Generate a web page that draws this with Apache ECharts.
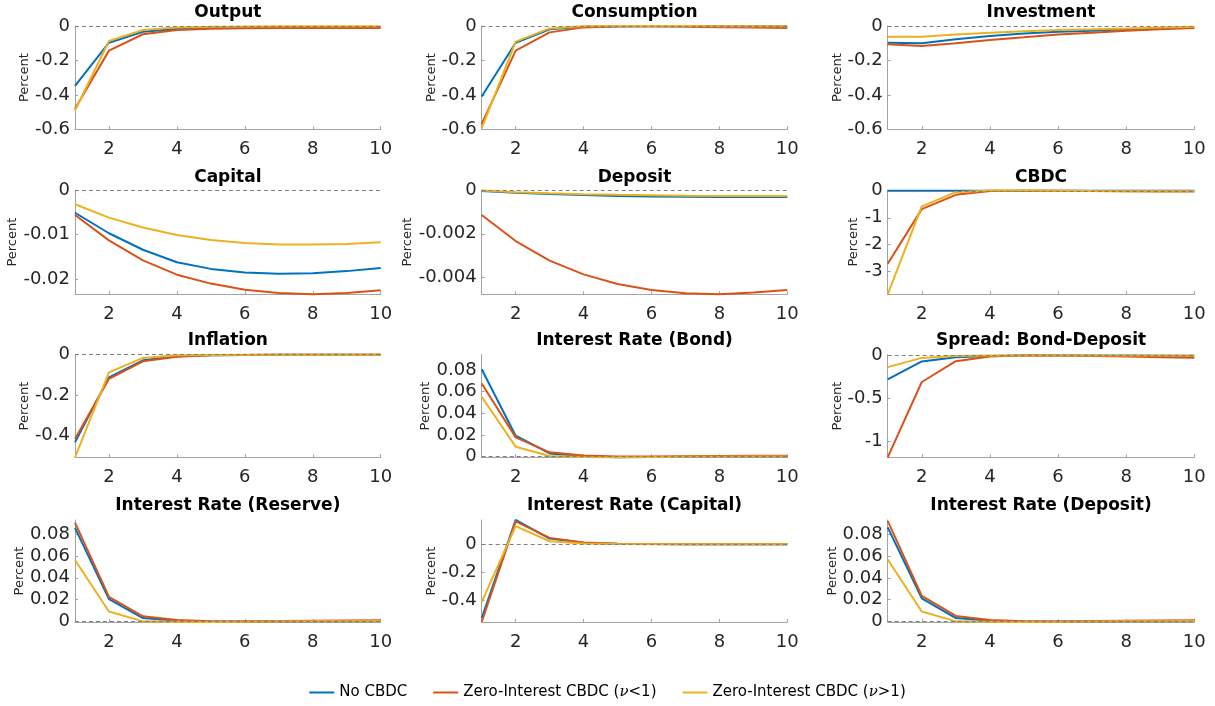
<!DOCTYPE html>
<html>
<head>
<meta charset="utf-8">
<script src="https://cdn.jsdelivr.net/npm/echarts@6/dist/echarts.min.js"></script>
<style>
  html, body { margin: 0; padding: 0; background: #ffffff; }
  #chart { width: 1215px; height: 706px; }
</style>
</head>
<body>
<div id="chart"></div>
<script>
// Impulse responses over a 10-quarter horizon, three scenarios per panel:
// [No CBDC, Zero-Interest CBDC (nu<1), Zero-Interest CBDC (nu>1)]
const horizon = [1, 2, 3, 4, 5, 6, 7, 8, 9, 10];
const seriesNames = ['No CBDC', 'Zero-Interest CBDC (ν<1)', 'Zero-Interest CBDC (ν>1)'];

const panelTitles = [
  'Output', 'Consumption', 'Investment',
  'Capital', 'Deposit', 'CBDC',
  'Inflation', 'Interest Rate (Bond)', 'Spread: Bond-Deposit',
  'Interest Rate (Reserve)', 'Interest Rate (Capital)', 'Interest Rate (Deposit)'
];

const output = [
  [-0.348, -0.097, -0.033, -0.018, -0.011, -0.008, -0.007, -0.006, -0.006, -0.006],
  [-0.480, -0.143, -0.048, -0.023, -0.016, -0.013, -0.012, -0.012, -0.012, -0.012],
  [-0.490, -0.087, -0.023, -0.008, -0.004, -0.003, -0.002, -0.002, -0.002, -0.002]
];
const consumption = [
  [-0.410, -0.097, -0.019, -0.004, -0.001, 0.000, 0.000, -0.001, -0.001, -0.001],
  [-0.569, -0.143, -0.037, -0.008, -0.003, -0.003, -0.005, -0.007, -0.009, -0.011],
  [-0.595, -0.091, -0.014, -0.002, 0.000, 0.000, 0.000, -0.001, -0.001, -0.001]
];
const investment = [
  [-0.097, -0.100, -0.077, -0.058, -0.043, -0.033, -0.027, -0.019, -0.014, -0.008],
  [-0.106, -0.116, -0.100, -0.081, -0.066, -0.050, -0.039, -0.027, -0.019, -0.012],
  [-0.062, -0.062, -0.050, -0.039, -0.031, -0.023, -0.019, -0.014, -0.008, -0.004]
];
const capital = [
  [-0.0051, -0.0097, -0.0134, -0.0162, -0.0177, -0.0185, -0.0188, -0.0187, -0.0182, -0.0175],
  [-0.0056, -0.0113, -0.0158, -0.0190, -0.0210, -0.0224, -0.0231, -0.0234, -0.0231, -0.0225],
  [-0.0032, -0.0062, -0.0084, -0.0101, -0.0112, -0.0119, -0.0122, -0.0122, -0.0121, -0.0117]
];
const deposit = [
  [-0.00005, -0.00012, -0.00018, -0.00023, -0.00027, -0.00030, -0.00031, -0.00032, -0.00032, -0.00032],
  [-0.00114, -0.00233, -0.00322, -0.00385, -0.00429, -0.00456, -0.00471, -0.00476, -0.00468, -0.00456],
  [-0.00002, -0.00010, -0.00015, -0.00019, -0.00022, -0.00024, -0.00026, -0.00027, -0.00027, -0.00027]
];
const cbdc = [
  [0, 0, 0, 0, 0, 0, 0, 0, 0, 0],
  [-2.71, -0.68, -0.15, -0.01, 0.005, 0.0, -0.01, -0.02, -0.025, -0.03],
  [-3.84, -0.58, -0.05, 0.01, 0.01, 0.0, -0.01, -0.015, -0.02, -0.02]
];
const inflation = [
  [-0.433, -0.112, -0.028, -0.008, -0.003, -0.001, 0, 0, 0, 0],
  [-0.417, -0.119, -0.033, -0.010, -0.003, -0.001, 0, 0, 0, 0],
  [-0.507, -0.087, -0.016, -0.003, -0.001, 0, 0, 0, 0, 0]
];
const rateBond = [
  [0.0806, 0.0193, 0.0030, 0.0003, -0.0005, -0.0004, -0.0002, 0.0000, 0.0001, 0.0002],
  [0.0674, 0.0178, 0.0040, 0.0010, 0.0002, 0.0002, 0.0004, 0.0006, 0.0008, 0.0009],
  [0.0552, 0.0092, 0.0006, -0.0003, -0.0005, -0.0004, -0.0002, 0.0000, 0.0001, 0.0002]
];
const spread = [
  [-0.277, -0.069, -0.020, -0.005, 0.000, 0.002, 0.001, 0.000, -0.001, -0.002],
  [-1.185, -0.308, -0.065, -0.010, 0.005, 0.002, -0.005, -0.012, -0.020, -0.025],
  [-0.135, -0.027, -0.006, 0.000, 0.002, 0.001, 0.000, 0.000, 0.000, 0.000]
];
const rateReserve = [
  [0.0858, 0.0204, 0.0030, 0.0005, -0.0005, -0.0004, -0.0002, 0.0000, 0.0002, 0.0003],
  [0.0906, 0.0225, 0.0046, 0.0012, 0.0002, 0.0002, 0.0004, 0.0006, 0.0008, 0.0009],
  [0.0563, 0.0091, 0.0000, -0.0003, -0.0005, -0.0004, -0.0002, 0.0000, 0.0002, 0.0003]
];
const rateCapital = [
  [-0.525, 0.172, 0.040, 0.010, 0.003, 0.001, 0, 0, 0, 0],
  [-0.553, 0.162, 0.045, 0.012, 0.003, 0.001, 0, 0, 0, 0],
  [-0.412, 0.129, 0.021, 0.005, 0.001, 0, 0, 0, 0, 0]
];
const rateDeposit = [
  [0.0867, 0.0213, 0.0030, 0.0005, -0.0005, -0.0004, -0.0002, 0.0000, 0.0002, 0.0003],
  [0.0927, 0.0234, 0.0050, 0.0012, 0.0002, 0.0002, 0.0004, 0.0006, 0.0008, 0.0009],
  [0.0570, 0.0091, 0.0000, -0.0003, -0.0005, -0.0004, -0.0002, 0.0000, 0.0002, 0.0003]
];

const panelData = [
  output, consumption, investment,
  capital, deposit, cbdc,
  inflation, rateBond, spread,
  rateReserve, rateCapital, rateDeposit
];

// Vertical axis limits and tick labels for each panel
const yLimits = [
  [-0.6, 0], [-0.6, 0], [-0.6, 0],
  [-0.0234, 0], [-0.00476, 0], [-3.84, 0.03],
  [-0.507, 0], [-0.0006, 0.094], [-1.185, 0.01],
  [-0.0006, 0.093], [-0.553, 0.172], [-0.0006, 0.0935]
];
const yTickValues = [
  [-0.6, -0.4, -0.2, 0], [-0.6, -0.4, -0.2, 0], [-0.6, -0.4, -0.2, 0],
  [-0.02, -0.01, 0], [-0.004, -0.002, 0], [-3, -2, -1, 0],
  [-0.4, -0.2, 0], [0, 0.02, 0.04, 0.06, 0.08], [-1, -0.5, 0],
  [0, 0.02, 0.04, 0.06, 0.08], [-0.4, -0.2, 0], [0, 0.02, 0.04, 0.06, 0.08]
];
const xTickValues = [2, 4, 6, 8, 10];

// Page layout (pixels)
const colLeft = [75, 481.7, 887.7];
const colWidth = [305.7, 305.6, 306.6];
const rowTop = [26, 190, 354.7, 520];
const rowHeight = [103.3, 104.3, 102.6, 102];
const titleCenterY = [12.7, 177.7, 340.7, 505.3];
const percentOffset = [50, 50, 50, 62, 75, 35, 50, 57, 51, 56, 51, 56];

const colors = ['#0072BD', '#D95319', '#EDB120'];
const labelFont = 'DejaVu Sans';
const axisGray = '#a3a3a3';
const textDark = '#262626';

const grids = [], xAxes = [], yAxes = [], series = [], graphics = [];

panelTitles.forEach((title, p) => {
  const r = Math.floor(p / 3), c = p % 3;
  grids.push({ left: colLeft[c], top: rowTop[r], width: colWidth[c], height: rowHeight[r] });

  xAxes.push({
    type: 'value', gridIndex: p, min: 1, max: 10,
    axisLine: { show: true, onZero: false, lineStyle: { color: axisGray, width: 1 } },
    axisTick: { show: true, inside: true, length: 3, customValues: xTickValues, lineStyle: { color: axisGray } },
    axisLabel: { customValues: xTickValues, margin: 11, fontFamily: labelFont, fontSize: 18, color: textDark },
    splitLine: { show: false }
  });

  yAxes.push({
    type: 'value', gridIndex: p, min: yLimits[p][0], max: yLimits[p][1],
    name: 'Percent', nameLocation: 'middle', nameGap: percentOffset[p] - 7,
    nameTextStyle: { fontFamily: labelFont, fontSize: 13, color: textDark },
    axisLine: { show: true, onZero: false, lineStyle: { color: axisGray, width: 1 } },
    axisTick: { show: true, inside: true, length: 3, customValues: yTickValues[p], lineStyle: { color: axisGray } },
    axisLabel: { customValues: yTickValues[p], margin: 5, fontFamily: labelFont, fontSize: 18, color: textDark },
    splitLine: { show: false }
  });

  panelData[p].forEach((values, s) => {
    const item = {
      name: seriesNames[s], type: 'line', xAxisIndex: p, yAxisIndex: p,
      data: horizon.map((h, i) => [h, values[i]]),
      symbol: 'none', clip: false, silent: true,
      lineStyle: { color: colors[s], width: 2 },
      itemStyle: { color: colors[s] },
      z: 2 + s
    };
    if (s === 2) {
      // dashed zero reference line, drawn above the curves
      item.markLine = {
        silent: true, symbol: 'none', label: { show: false },
        lineStyle: { color: '#808080', type: [4, 3], width: 1 },
        data: [{ yAxis: 0 }],
        z: 10
      };
    }
    series.push(item);
  });

  graphics.push({
    type: 'text',
    x: colLeft[c] + colWidth[c] / 2, y: titleCenterY[r],
    style: {
      text: title, align: 'center', verticalAlign: 'middle',
      font: 'bold 17px "DejaVu Sans"', fill: '#000000'
    }
  });
});

const chart = echarts.init(document.getElementById('chart'), null, { renderer: 'canvas' });
chart.setOption({
  animation: false,
  backgroundColor: '#ffffff',
  grid: grids,
  xAxis: xAxes,
  yAxis: yAxes,
  series: series,
  graphic: graphics,
  legend: {
    data: seriesNames,
    left: 'center', top: 680,
    icon: 'rect', itemWidth: 25, itemHeight: 2, itemGap: 26,
    selectedMode: false,
    formatter: name => name.replace('ν', '{nu|ν}'),
    textStyle: {
      fontFamily: labelFont, fontSize: 15, color: '#000000',
      rich: { nu: { fontFamily: 'DejaVu Serif', fontStyle: 'italic', fontSize: 15, color: '#000000' } }
    }
  }
});
</script>
</body>
</html>
